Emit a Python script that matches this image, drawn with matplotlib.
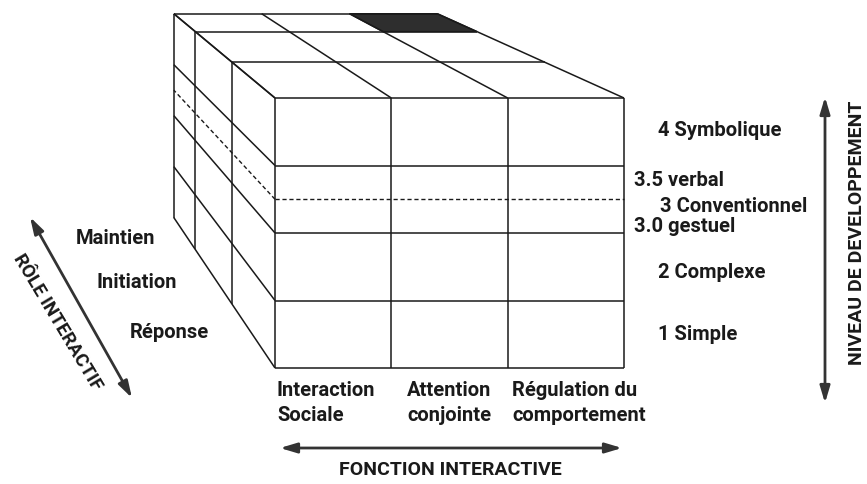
import matplotlib
matplotlib.use("Agg")
import matplotlib.pyplot as plt
from matplotlib.patches import Polygon

plt.rcParams["font.family"] = ["Roboto", "DejaVu Sans"]

# --- content ---
levels = ["1 Simple", "2 Complexe", "3.0 gestuel", "3 Conventionnel", "3.5 verbal", "4 Symbolique"]
roles = ["Réponse", "Initiation", "Maintien"]
functions = ["Interaction\nSociale", "Attention\nconjointe", "Régulation du\ncomportement"]
n_cols, n_rows, n_depth = 3, 4, 3
dark_cell = (2, 2)          # (column, depth layer) on the top face

# --- geometry of the front face (pixels) ---
x0, x1 = 275, 624
y_top, y_bot = 98, 368
vp = (-138, -246)                      # vanishing point
depth_scale = [1.0, 0.896, 0.807, 0.755]
col_x = [x0 + (x1 - x0) * i / n_cols for i in range(n_cols + 1)]
row_y = [y_bot - (y_bot - y_top) * j / n_rows for j in range(n_rows + 1)]
dash_y = (row_y[2] + row_y[3]) / 2

def proj(x, y, d):
    s = depth_scale[d]
    return vp[0] + s * (x - vp[0]), vp[1] + s * (y - vp[1])

fig = plt.figure(figsize=(8.67, 4.84), dpi=100)
ax = fig.add_axes([0, 0, 1, 1])
ax.set_xlim(0, 867); ax.set_ylim(484, 0); ax.axis("off")
lk = dict(color="#1a1a1a", lw=1.1, solid_capstyle="butt")

# dark cell on the top face
c, d = dark_cell
ax.add_patch(Polygon([proj(col_x[c], y_top, d), proj(col_x[c + 1], y_top, d),
                      proj(col_x[c + 1], y_top, d + 1), proj(col_x[c], y_top, d + 1)],
                     closed=True, facecolor="#2e2e2e", edgecolor="#1a1a1a", lw=1))

# front face
for x in col_x:
    ax.plot([x, x], [y_top, y_bot], **lk)
for y in row_y:
    ax.plot([x0, x1], [y, y], **lk)
ax.plot([x0, x1], [dash_y, dash_y], ls=(0, (3, 2)), color="#1a1a1a", lw=1)

# top face
for x in col_x:
    pts = [proj(x, y_top, d) for d in range(n_depth + 1)]
    ax.plot([p[0] for p in pts], [p[1] for p in pts], **lk)
for d in range(1, n_depth + 1):
    a, b = proj(x0, y_top, d), proj(x1, y_top, d)
    ax.plot([a[0], b[0]], [a[1], b[1]], **lk)

# left face
for y in row_y:
    a, b = proj(x0, y, 0), proj(x0, y, n_depth)
    ax.plot([a[0], b[0]], [a[1], b[1]], **lk)
a, b = proj(x0, dash_y, 0), proj(x0, dash_y, n_depth)
ax.plot([a[0], b[0]], [a[1], b[1]], ls=(0, (3, 2)), color="#1a1a1a", lw=1)
for d in range(1, n_depth + 1):
    a, b = proj(x0, y_top, d), proj(x0, y_bot, d)
    ax.plot([a[0], b[0]], [a[1], b[1]], **lk)

tk = dict(fontsize=14.5, fontweight="bold", color="#1a1a1a")

# level labels (right)
level_pos = {"4 Symbolique": (658, 130), "3.5 verbal": (634, 180), "3 Conventionnel": (660, 207),
             "3.0 gestuel": (634, 227), "2 Complexe": (658, 273), "1 Simple": (658, 335)}
for lab in levels:
    x, y = level_pos[lab]
    ax.text(x, y, lab, ha="left", va="center", **tk)

# role labels (left)
role_pos = [(130, 332), (96, 283), (76, 238)]
for lab, (x, y) in zip(roles, role_pos):
    ax.text(x, y, lab, ha="left", va="center", **tk)

# function labels (bottom)
for lab, x in zip(functions, [277, 407, 512]):
    ax.text(x, 403, lab, ha="left", va="center", linespacing=1.35, **tk)

# axis arrows
ak = dict(arrowstyle="<|-|>,head_length=1.0,head_width=0.3", color="#333333", lw=2, shrinkA=0, shrinkB=0)
ax.annotate("", xy=(622, 448), xytext=(280, 448), arrowprops=ak)
ax.text(450, 470, "FONCTION INTERACTIVE", ha="center", va="center",
        fontsize=14, fontweight="bold", color="#1a1a1a")

ax.annotate("", xy=(825, 403), xytext=(825, 97), arrowprops=ak)
ax.text(857, 233, "NIVEAU DE DEVELOPPEMENT", ha="center", va="center", rotation=90,
        fontsize=14, fontweight="bold", color="#1a1a1a")

ax.annotate("", xy=(132, 398), xytext=(30, 217), arrowprops=ak)
ax.text(57, 322, "RÔLE INTERACTIF", ha="center", va="center", rotation=-59,
        rotation_mode="anchor", fontsize=13.5, fontweight="bold", color="#1a1a1a")

fig.savefig("out.png", dpi=100, facecolor="white")
